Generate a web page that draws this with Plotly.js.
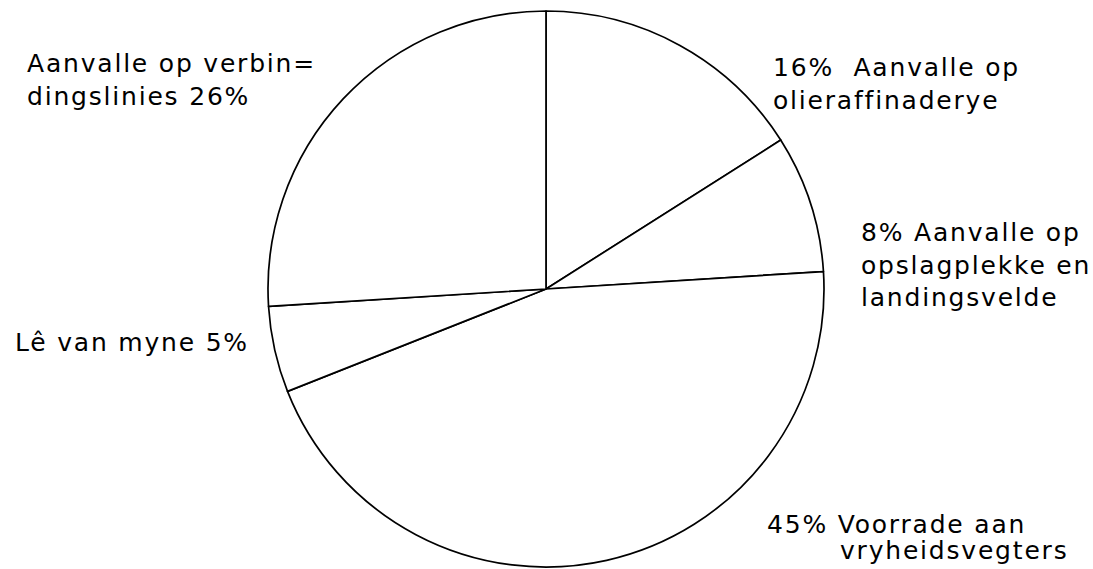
<!DOCTYPE html>
<html>
<head>
<meta charset="utf-8">
<script src="https://cdn.plot.ly/plotly-3.0.1.min.js"></script>
<style>
  html, body { margin: 0; padding: 0; background: #fff; }
  #chart { width: 1093px; height: 569px; }
  .annotation-text { letter-spacing: 1.8px; }
</style>
</head>
<body>
<div id="chart"></div>
<script>
// ---- data ----
const categories = [
  "Aanvalle op olieraffinaderye",
  "Aanvalle op opslagplekke en landingsvelde",
  "Voorrade aan vryheidsvegters",
  "Lê van myne",
  "Aanvalle op verbindingslinies"
];
const percentages = [16, 8, 45, 5, 26];

// label text blocks (each block = lines drawn together)
const labelBlocks = [
  ["16%  Aanvalle op", "olieraffinaderye"],
  ["8% Aanvalle op", "opslagplekke en", "landingsvelde"],
  ["45% Voorrade aan"],
  ["vryheidsvegters"],
  ["Lê van myne 5%"],
  ["Aanvalle op verbin=", "dingslinies 26%"]
];

// ---- layout: pixel position of each block (left x, first baseline, last baseline) ----
const W = 1093, H = 569;
const blockPos = [
  [771, 77, 108],
  [859, 241, 305],
  [765, 532, 532],
  [838, 558, 558],
  [13, 350, 350],
  [25, 72, 103]
];

const annotations = labelBlocks.map((lines, i) => {
  const [px, yFirst, yLast] = blockPos[i];
  const yMid = (yFirst + yLast) / 2 - 8;
  return {
    text: lines.join("<br>"),
    align: "left",
    xref: "paper", yref: "paper",
    x: px / W, y: 1 - yMid / H,
    xanchor: "left", yanchor: "middle",
    showarrow: false,
    font: { family: "DejaVu Sans", size: 25, color: "#000" }
  };
});

const trace = {
  type: "pie",
  labels: categories,
  values: percentages,
  sort: false,
  direction: "clockwise",
  rotation: 0,
  textinfo: "none",
  hoverinfo: "none",
  showlegend: false,
  marker: {
    colors: categories.map(() => "#ffffff"),
    line: { color: "#000000", width: 1.7 }
  },
  domain: { x: [264 / W, 828 / W], y: [2 / H, 558 / H] }
};

const layout = {
  width: W, height: H,
  margin: { l: 0, r: 0, t: 0, b: 0 },
  paper_bgcolor: "#ffffff",
  plot_bgcolor: "#ffffff",
  showlegend: false,
  annotations: annotations
};

Plotly.newPlot("chart", [trace], layout, { displayModeBar: false, staticPlot: true });
</script>
</body>
</html>
